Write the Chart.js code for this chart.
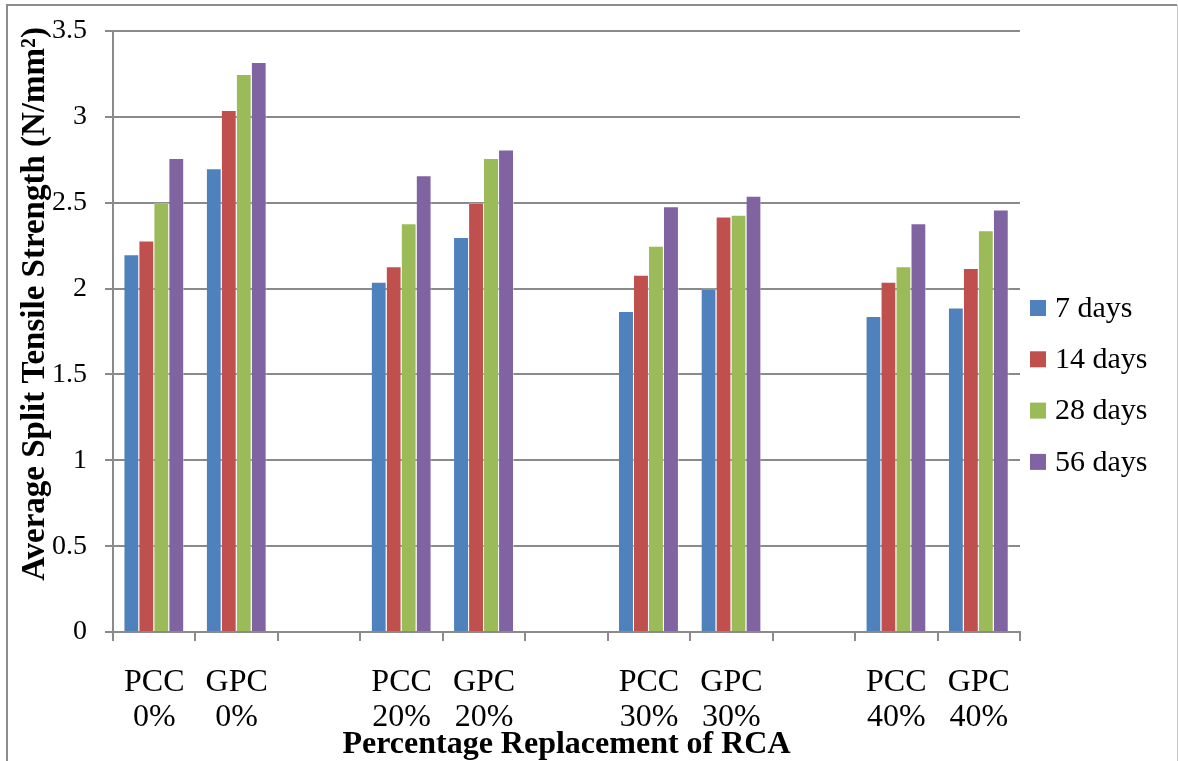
<!DOCTYPE html>
<html>
<head>
<meta charset="utf-8">
<script src="https://cdn.jsdelivr.net/npm/chart.js@4/dist/chart.umd.min.js"></script>
<style>
  html, body { margin: 0; padding: 0; background: #ffffff; }
  #wrap { position: relative; width: 1178px; height: 761px; }
  canvas { display: block; }
</style>
</head>
<body>
<div id="wrap"><canvas id="c" width="1178" height="761"></canvas></div>
<script>
// Mix groups; blank slots separate the replacement levels
const categories = [
  ["PCC", "0%"], ["GPC", "0%"], "",
  ["PCC", "20%"], ["GPC", "20%"], "",
  ["PCC", "30%"], ["GPC", "30%"], "",
  ["PCC", "40%"], ["GPC", "40%"]
];
const seriesNames = ["7 days", "14 days", "28 days", "56 days"];
const days7  = [2.20, 2.70, null, 2.04, 2.30, null, 1.87, 2.00, null, 1.84, 1.89];
const days14 = [2.28, 3.04, null, 2.13, 2.50, null, 2.08, 2.42, null, 2.04, 2.12];
const days28 = [2.50, 3.25, null, 2.38, 2.76, null, 2.25, 2.43, null, 2.13, 2.34];
const days56 = [2.76, 3.32, null, 2.66, 2.81, null, 2.48, 2.54, null, 2.38, 2.46];
const yTicks = [0, 0.5, 1, 1.5, 2, 2.5, 3, 3.5];

const colors = ["#4F81BD", "#C0504D", "#9BBB59", "#8064A2"];
const serif = "'Liberation Serif', 'Times New Roman', serif";
const gridGray = "#8a8a8a";

const seriesData = [days7, days14, days28, days56];
const datasets = seriesNames.map((name, i) => ({
  label: name,
  data: seriesData[i],
  backgroundColor: colors[i],
  borderColor: "rgba(255,255,255,0.45)",
  borderWidth: { top: 1, right: 1, left: 0, bottom: 0 },
  categoryPercentage: 0.727,
  barPercentage: 1.0
}));

// Frame, rotated y title and the series key on the right
const decorations = {
  id: "decorations",
  afterDraw(chart) {
    const ctx = chart.ctx;
    ctx.save();
    // outer frame
    ctx.strokeStyle = "#8c8c8c";
    ctx.lineWidth = 2;
    ctx.beginPath();
    ctx.moveTo(7, 761); ctx.lineTo(7, 5); ctx.lineTo(1177, 5);
    ctx.stroke();
    ctx.strokeStyle = "#c8c8c8";
    ctx.lineWidth = 1;
    ctx.beginPath();
    ctx.moveTo(1177.5, 5); ctx.lineTo(1177.5, 761);
    ctx.stroke();

    // y axis title
    ctx.fillStyle = "#000";
    ctx.font = "bold 33px " + serif;
    ctx.textAlign = "center";
    ctx.textBaseline = "middle";
    ctx.translate(35, 304);
    ctx.rotate(-Math.PI / 2);
    ctx.fillText("Average Split Tensile Strength (N/mm\u00B2)", 0, 0);
    ctx.setTransform(1, 0, 0, 1, 0, 0);

    // series key
    ctx.font = "30px " + serif;
    ctx.textAlign = "left";
    chart.data.datasets.forEach((ds, i) => {
      const cy = 308 + i * 51.3;
      ctx.fillStyle = ds.backgroundColor;
      ctx.fillRect(1030, cy - 8, 16, 16);
      ctx.fillStyle = "#000";
      ctx.fillText(ds.label, 1055, cy + 1);
    });
    ctx.restore();
  }
};

new Chart(document.getElementById("c"), {
  type: "bar",
  data: { labels: categories, datasets },
  plugins: [decorations],
  options: {
    responsive: false,
    animation: false,
    layout: { padding: { left: 0, right: 158, top: 31, bottom: 0 } },
    plugins: {
      legend: { display: false },
      tooltip: { enabled: false }
    },
    scales: {
      x: {
        afterFit(scale) { scale.height = 129; },
        grid: {
          offset: true,
          drawOnChartArea: false,
          drawTicks: true,
          tickLength: 9,
          color: gridGray,
          lineWidth: 2
        },
        border: { color: gridGray, width: 2 },
        ticks: {
          color: "#000",
          font: { family: serif, size: 32, lineHeight: 1.09 },
          padding: 24,
          maxRotation: 0,
          autoSkip: false
        },
        title: {
          display: true,
          text: "Percentage Replacement of RCA",
          color: "#000",
          font: { family: serif, size: 32, weight: "bold", lineHeight: 1.0 },
          padding: { top: 0, bottom: 0 }
        }
      },
      y: {
        min: 0,
        max: 3.5,
        afterFit(scale) {
          scale.width = 113;
          scale.paddingTop = 0;
          scale.paddingBottom = 0;
        },
        afterBuildTicks(scale) { scale.ticks = yTicks.map(v => ({ value: v })); },
        grid: {
          color: gridGray,
          lineWidth: 2,
          tickLength: 8
        },
        border: { color: gridGray, width: 2 },
        ticks: {
          color: "#000",
          font: { family: serif, size: 28 },
          padding: 18,
          callback: (v) => String(v)
        }
      }
    }
  }
});
</script>
</body>
</html>
